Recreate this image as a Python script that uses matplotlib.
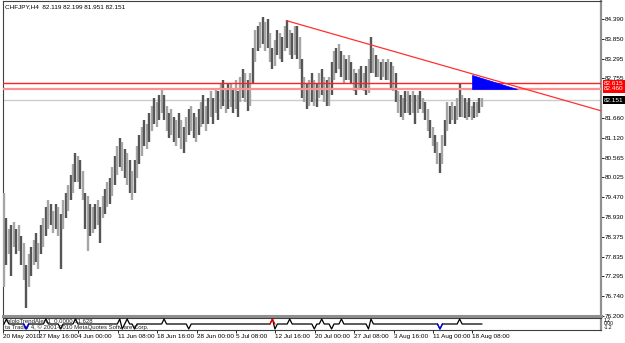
import matplotlib
matplotlib.use("Agg")
import matplotlib.pyplot as plt
from matplotlib.patches import Polygon

plt.rcParams["font.family"] = ["Liberation Sans", "DejaVu Sans"]

# CHFJPY H4, one entry = two H4 bars (high / low)
highs = [
    79.6, 78.9, 78.6, 78.7, 78.8, 78.6, 78.7, 78.4, 78.2, 77.6, 77.9, 78.1,
    78.3, 78.5, 78.2, 78.7, 78.9, 79.2, 79.4, 79.3, 79.1, 79.3, 79.2, 79.0,
    79.4, 79.6, 79.8, 80.1, 80.4, 80.7, 80.6, 80.5, 80.2, 79.6, 79.5, 79.3,
    79.2, 79.3, 79.4, 79.2, 79.5, 79.7, 79.9, 80.0, 80.3, 80.6, 80.9, 81.1,
    81.0, 80.8, 80.7, 80.5, 80.2, 80.5, 80.9, 81.2, 81.4, 81.6, 81.5, 81.8,
    82.0, 82.2, 82.1, 82.3, 82.5, 82.3, 82.0, 81.8, 81.9, 81.7, 81.6, 81.8,
    81.6, 81.4, 81.7, 81.9, 82.0, 81.8, 81.7, 81.9, 82.1, 82.3, 82.0, 82.2,
    82.4, 82.2, 82.5, 82.4, 82.6, 82.7, 82.5, 82.6, 82.6, 82.5, 82.7, 82.4,
    82.8, 83.0, 82.9, 82.7, 82.9, 83.6, 84.1, 84.2, 84.3, 84.45, 84.3, 84.4,
    84.0, 83.6, 83.8, 84.1, 84.0, 83.9, 84.2, 84.35, 84.1, 84.0, 84.2, 84.2,
    83.9, 83.3, 82.8, 82.6, 82.7, 82.9, 82.7, 82.6, 82.9, 83.0, 82.8, 82.7,
    82.8, 83.2, 83.5, 83.6, 83.7, 83.5, 83.4, 83.3, 83.4, 83.2, 83.0, 82.9,
    83.0, 83.1, 82.9, 83.1, 83.3, 83.9, 83.6, 83.4, 83.3, 83.2, 83.3, 83.2,
    83.3, 83.2, 83.1, 82.9, 82.4, 82.3, 82.2, 82.4, 82.4, 82.3, 82.4, 82.3,
    82.3, 82.4, 82.2, 82.1, 81.9, 81.6, 81.4, 81.2, 81.0, 80.7, 81.2, 81.6,
    82.1, 82.0, 82.1, 82.0, 82.2, 82.63, 82.3, 82.2, 82.1, 82.2, 82.0, 82.1,
    82.1, 82.2, 82.2,
]
lows = [
    77.0, 77.6, 77.9, 77.3, 78.1, 77.9, 78.0, 77.6, 77.2, 76.42, 77.0, 77.3,
    77.6, 77.7, 77.5, 77.9, 78.1, 78.4, 78.6, 78.7, 78.5, 78.6, 78.4, 77.5,
    78.6, 78.9, 79.1, 79.4, 79.6, 79.9, 79.9, 79.7, 79.4, 78.6, 78.0, 78.4,
    78.5, 78.6, 78.7, 78.2, 78.9, 79.0, 79.2, 79.3, 79.5, 79.8, 80.1, 80.3,
    80.2, 80.0, 79.8, 79.6, 79.4, 79.6, 80.0, 80.4, 80.6, 80.9, 80.8, 81.0,
    81.3, 81.5, 81.4, 81.6, 81.8, 81.6, 81.3, 81.1, 81.2, 81.0, 80.9, 81.1,
    80.8, 80.7, 81.0, 81.2, 81.3, 81.1, 81.0, 81.2, 81.4, 81.5, 81.3, 81.5,
    81.7, 81.5, 81.8, 81.6, 81.9, 82.0, 81.8, 81.9, 81.95, 81.8, 81.9, 81.7,
    82.1, 82.2, 82.1, 81.85, 82.0, 82.6, 83.2, 83.5, 83.6, 83.7, 83.5, 83.6,
    83.2, 83.0, 83.1, 83.4, 83.3, 83.2, 83.5, 83.6, 83.4, 83.3, 83.4, 83.3,
    83.0, 82.2, 82.1, 81.9, 82.0, 82.1, 82.0, 81.95, 82.2, 82.3, 82.1, 82.0,
    82.0, 82.3, 82.7, 82.9, 83.0, 82.8, 82.6, 82.7, 82.7, 82.6, 82.4, 82.3,
    82.5, 82.5, 82.4, 82.3, 82.35, 82.9, 82.9, 82.8, 82.8, 82.7, 82.8, 82.7,
    82.7, 82.5, 82.4, 82.1, 81.8, 81.7, 81.6, 81.8, 81.8, 81.75, 81.8, 81.5,
    81.8, 81.9, 81.8, 81.6, 81.3, 81.1, 80.9, 80.7, 80.4, 80.14, 80.4, 80.9,
    81.3, 81.5, 81.6, 81.5, 81.6, 81.7, 81.7, 81.65, 81.6, 81.7, 81.6, 81.65,
    81.7, 81.8, 81.95,
]

# signal sub-window: bar index of up / down arrows
signal_up = [1, 17, 29, 47, 50, 65, 109, 116, 129, 137, 149, 185]
signal_down = [9, 23, 48, 53, 75, 110, 126, 133, 148, 177]
signal_red = [109]
signal_blue = [9, 177]

date_labels = ["20 May 2010", "27 May 16:00", "4 Jun 00:00", "11 Jun 08:00",
               "18 Jun 16:00", "28 Jun 00:00", "5 Jul 08:00", "12 Jul 16:00",
               "20 Jul 00:00", "27 Jul 08:00", "3 Aug 16:00", "11 Aug 00:00",
               "18 Aug 08:00"]
price_ticks = [84.390, 83.850, 83.295, 82.755, 81.660, 81.120, 80.565,
               80.025, 79.470, 78.930, 78.375, 77.835, 77.295, 76.740, 76.200]

last_price = 82.151
level_1 = 82.615
level_2 = 82.460
trend_pts = [(114.9, 84.34), (230.0, 82.10)]
triangle = [(190.0, 82.846), (190.0, 82.460), (208.3, 82.460)]
header = "CHFJPY,H4  82.119 82.199 81.951 82.151"

FS = 4.6
n = len(highs)
xs = list(range(n))
W, H = 625, 343
fig = plt.figure(figsize=(W / 100, H / 100), dpi=100)
fig.patch.set_facecolor("white")

def fx(px):
    return px / W

def fy(py):
    return 1 - py / H

ax = fig.add_axes([fx(3), fy(316), fx(601) - fx(3), fy(1) - fy(316)])
sub = fig.add_axes([fx(3), fy(330), fx(601) - fx(3), fy(318) - fy(330)], sharex=ax)

xmin, xmax = -0.41, 242.4
ax.set_xlim(xmin, xmax)
ax.set_ylim(76.199, 84.886)

# bars, alternating dark / light grey like up and down bars
cols = ["#555555" if i % 2 else "#a5a5a5" for i in range(n)]
ax.vlines(xs, lows, highs, colors=cols, linewidth=1.7, zorder=3)

# horizontal levels and bid line
ax.axhline(last_price, color="#cccccc", linewidth=1, zorder=1)
ax.axhline(level_1, color="#ff2020", linewidth=1, zorder=4)
ax.axhline(level_2, color="#ff9090", linewidth=1.6, zorder=4)

# trend line extended to the right edge
(x1, y1), (x2, y2) = trend_pts
slope = (y2 - y1) / (x2 - x1)
ax.plot([x1, xmax], [y1, y1 + slope * (xmax - x1)], color="#ff3030",
        linewidth=0.9, zorder=4)
ax.add_patch(Polygon(triangle, closed=True, facecolor="#0000ff",
                     edgecolor="#0000ff", linewidth=0.5, zorder=5))

ax.yaxis.tick_right()
ax.set_yticks(price_ticks)
ax.set_yticklabels([f"{p:.3f}" for p in price_ticks])
ax.tick_params(axis="y", length=2, width=0.6, pad=0.5, labelsize=FS,
               colors="#000000")
ax.tick_params(axis="x", bottom=False, labelbottom=False)

for sp in ["left", "top"]:
    ax.spines[sp].set_color("#404040")
    ax.spines[sp].set_linewidth(0.8)
ax.spines["right"].set_color("#909090")
ax.spines["right"].set_linewidth(1.6)
ax.spines["bottom"].set_color("#909090")
ax.spines["bottom"].set_linewidth(2.2)

# price labels on the scale
box_x = 1.005
for val, fc in [(level_1, "#ff0000"), (level_2, "#ff0000"), (last_price, "#000000")]:
    ax.text(box_x, val, f"{val:.3f}", transform=ax.get_yaxis_transform(),
            fontsize=FS, color="white", va="center", ha="left", zorder=10,
            clip_on=False,
            bbox=dict(boxstyle="square,pad=0.2", facecolor=fc, edgecolor="none"))

ax.text(0.003, 0.983, header, transform=ax.transAxes, fontsize=FS,
        va="center", ha="left", color="#000000")

# signal sub-window
sig = [0] * n
for i in signal_up:
    sig[i] = 1
for i in signal_down:
    sig[i] = -1
sub.plot(xs, sig, color="#000000", linewidth=0.9, zorder=3)
for group, c in [(signal_red, "#ff0000"), (signal_blue, "#0000ff")]:
    for i in group:
        sub.plot([i - 1, i, i + 1], [0, sig[i], 0], color=c, linewidth=0.9, zorder=4)
sub.set_ylim(-1.2, 1.2)
sub.yaxis.tick_right()
sub.set_yticks([])
for v, t in [(0.8, "1.2"), (0.05, "0.00"), (-0.7, "-1.2")]:
    sub.text(1.004, v, t, transform=sub.get_yaxis_transform(), fontsize=3.6,
             va="center", ha="left", clip_on=False)
sub.text(0.004, 0.22, "ta Trader 4, \u00a9 2001-2010 MetaQuotes Software Corp.",
         transform=sub.transAxes, fontsize=4.3, color="#202020", va="center")
sub.text(0.004, 0.72, "-ololoTrendAlert1  0.0000 81.628",
         transform=sub.transAxes, fontsize=4.3, color="#202020", va="center")

tick_pos = [xmin + 0.01] + [16 * k - 1.8 for k in range(1, len(date_labels))]
sub.set_xticks(tick_pos)
sub.set_xticklabels(date_labels, ha="left")
sub.tick_params(axis="x", length=2, width=0.6, pad=1, labelsize=FS,
                colors="#000000")
for sp in ["left", "top", "bottom"]:
    sub.spines[sp].set_color("#404040")
    sub.spines[sp].set_linewidth(0.8)
sub.spines["right"].set_color("#909090")
sub.spines["right"].set_linewidth(1.6)

fig.savefig("out.png", dpi=100)
